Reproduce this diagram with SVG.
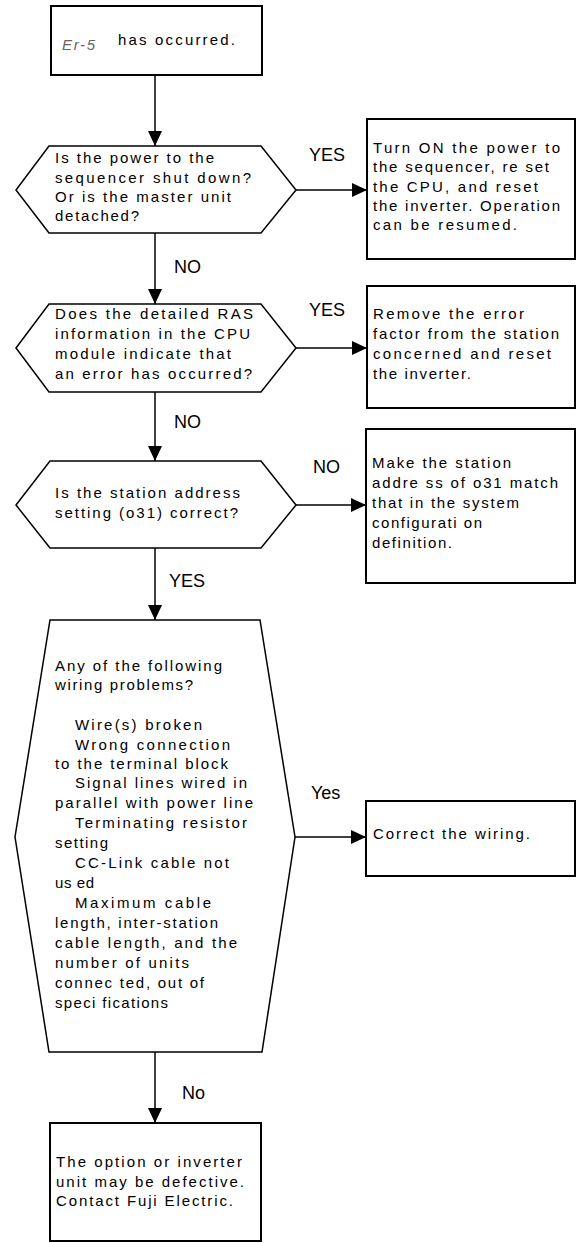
<svg xmlns="http://www.w3.org/2000/svg" width="577" height="1243" viewBox="0 0 577 1243">
<style>
.box{fill:#fff;stroke:#000;stroke-width:2}
.dec{fill:#fff;stroke:#000;stroke-width:1.5}
.t{font-family:"Liberation Sans",Arial,sans-serif;font-size:15px;fill:#000}
.lbl{font-family:"Liberation Sans",Arial,sans-serif;font-size:18px;fill:#000}
.c{stroke:#000;stroke-width:1.5;fill:none;marker-end:url(#ah)}
</style>
<defs>
<marker id="ah" markerUnits="userSpaceOnUse" markerWidth="15" markerHeight="14" refX="15" refY="7" orient="auto">
<path d="M0,0 L15,7 L0,14 z" fill="#000"/>
</marker>
</defs>
<g id="connectors">
<line class="c" x1="155" y1="75" x2="155" y2="146"/>
<line class="c" x1="296" y1="190" x2="367" y2="190"/>
<line class="c" x1="155" y1="233" x2="155" y2="304"/>
<line class="c" x1="296" y1="348" x2="367" y2="348"/>
<line class="c" x1="155" y1="392" x2="155" y2="461"/>
<line class="c" x1="296" y1="505" x2="366" y2="505"/>
<line class="c" x1="155" y1="548" x2="155" y2="620"/>
<line class="c" x1="295" y1="837" x2="366" y2="837"/>
<line class="c" x1="155" y1="1052" x2="155" y2="1123"/>
<text class="lbl" x="309" y="161">YES</text>
<text class="lbl" x="174" y="273">NO</text>
<text class="lbl" x="309" y="316">YES</text>
<text class="lbl" x="174" y="428">NO</text>
<text class="lbl" x="313" y="473">NO</text>
<text class="lbl" x="169" y="587">YES</text>
<text class="lbl" x="311" y="799">Yes</text>
<text class="lbl" x="182" y="1099">No</text>
</g>
<g id="start">
<rect class="box" x="51" y="6" width="211" height="69"/>
<text x="62" y="50" font-family="'Liberation Sans',Arial,sans-serif" font-size="15" font-style="italic" fill="#666" textLength="33" lengthAdjust="spacing">Er-5</text>
<text class="t" x="118" y="45" textLength="117" lengthAdjust="spacing">has occurred.</text>
</g>
<g id="q1">
<polygon class="dec" points="16,190 49,146 261,146 296,190 261,233 49,233"/>
<text class="t" x="55" y="163" textLength="159" lengthAdjust="spacing">Is the power to the</text>
<text class="t" x="55" y="183" textLength="196" lengthAdjust="spacing">sequencer shut down?</text>
<text class="t" x="55" y="202" textLength="176" lengthAdjust="spacing">Or is the master unit</text>
<text class="t" x="55" y="221" textLength="84" lengthAdjust="spacing">detached?</text>
</g>
<g id="a1">
<rect class="box" x="367" y="119" width="208" height="140"/>
<text class="t" x="373" y="153" textLength="187" lengthAdjust="spacing">Turn ON the power to</text>
<text class="t" x="373" y="172" textLength="176" lengthAdjust="spacing">the sequencer, re set</text>
<text class="t" x="373" y="192" textLength="165" lengthAdjust="spacing">the CPU, and reset</text>
<text class="t" x="373" y="211" textLength="187" lengthAdjust="spacing">the inverter. Operation</text>
<text class="t" x="373" y="230" textLength="144" lengthAdjust="spacing">can be resumed.</text>
</g>
<g id="q2">
<polygon class="dec" points="16,348 49,304 261,304 296,348 261,392 49,392"/>
<text class="t" x="55" y="319" textLength="198" lengthAdjust="spacing">Does the detailed RAS</text>
<text class="t" x="55" y="339" textLength="195" lengthAdjust="spacing">information in the CPU</text>
<text class="t" x="55" y="359" textLength="176" lengthAdjust="spacing">module indicate that</text>
<text class="t" x="55" y="379" textLength="197" lengthAdjust="spacing">an error has occurred?</text>
</g>
<g id="a2">
<rect class="box" x="367" y="286" width="208" height="122"/>
<text class="t" x="373" y="319" textLength="151" lengthAdjust="spacing">Remove the error</text>
<text class="t" x="373" y="339" textLength="186" lengthAdjust="spacing">factor from the station</text>
<text class="t" x="373" y="359" textLength="178" lengthAdjust="spacing">concerned and reset</text>
<text class="t" x="373" y="379" textLength="98" lengthAdjust="spacing">the inverter.</text>
</g>
<g id="q3">
<polygon class="dec" points="16,505 50,461 261,461 296,505 261,548 50,548"/>
<text class="t" x="55" y="498" textLength="185" lengthAdjust="spacing">Is the station address</text>
<text class="t" x="55" y="518" textLength="183" lengthAdjust="spacing">setting (o31) correct?</text>
</g>
<g id="a3">
<rect class="box" x="366" y="429" width="209" height="154"/>
<text class="t" x="372" y="468" textLength="139" lengthAdjust="spacing">Make the station</text>
<text class="t" x="372" y="488" textLength="186" lengthAdjust="spacing">addre ss of o31 match</text>
<text class="t" x="372" y="508" textLength="147" lengthAdjust="spacing">that in the system</text>
<text class="t" x="372" y="528" textLength="110" lengthAdjust="spacing">configurati on</text>
<text class="t" x="372" y="548" textLength="80" lengthAdjust="spacing">definition.</text>
</g>
<g id="q4">
<polygon class="dec" points="50,620 260,620 295,837 262,1052 49,1052 15,837"/>
<text class="t" x="55" y="671" textLength="167" lengthAdjust="spacing">Any of the following</text>
<text class="t" x="55" y="690" textLength="138" lengthAdjust="spacing">wiring problems?</text>
<text class="t" x="75" y="730" textLength="127" lengthAdjust="spacing">Wire(s) broken</text>
<text class="t" x="75" y="750" textLength="155" lengthAdjust="spacing">Wrong connection</text>
<text class="t" x="55" y="769" textLength="173" lengthAdjust="spacing">to the terminal block</text>
<text class="t" x="75" y="788" textLength="172" lengthAdjust="spacing">Signal lines wired in</text>
<text class="t" x="55" y="808" textLength="198" lengthAdjust="spacing">parallel with power line</text>
<text class="t" x="75" y="828" textLength="172" lengthAdjust="spacing">Terminating resistor</text>
<text class="t" x="55" y="848" textLength="53" lengthAdjust="spacing">setting</text>
<text class="t" x="75" y="868" textLength="154" lengthAdjust="spacing">CC-Link cable not</text>
<text class="t" x="55" y="888" textLength="39" lengthAdjust="spacing">us ed</text>
<text class="t" x="75" y="908" textLength="136" lengthAdjust="spacing">Maximum cable</text>
<text class="t" x="55" y="928" textLength="163" lengthAdjust="spacing">length, inter-station</text>
<text class="t" x="55" y="948" textLength="182" lengthAdjust="spacing">cable length, and the</text>
<text class="t" x="55" y="968" textLength="134" lengthAdjust="spacing">number of units</text>
<text class="t" x="55" y="988" textLength="149" lengthAdjust="spacing">connec ted, out of</text>
<text class="t" x="55" y="1008" textLength="113" lengthAdjust="spacing">speci fications</text>
</g>
<g id="a4">
<rect class="box" x="366" y="801" width="209" height="75"/>
<text class="t" x="373" y="839" textLength="157" lengthAdjust="spacing">Correct the wiring.</text>
</g>
<g id="end">
<rect class="box" x="50" y="1123" width="211" height="118"/>
<text class="t" x="56" y="1167" textLength="186" lengthAdjust="spacing">The option or inverter</text>
<text class="t" x="56" y="1187" textLength="188" lengthAdjust="spacing">unit may be defective.</text>
<text class="t" x="56" y="1206" textLength="177" lengthAdjust="spacing">Contact Fuji Electric.</text>
</g>
</svg>
